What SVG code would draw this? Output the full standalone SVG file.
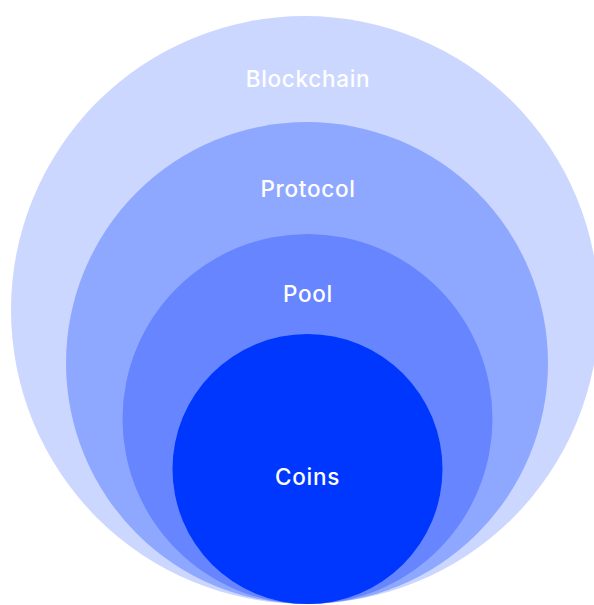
<svg xmlns="http://www.w3.org/2000/svg" width="594" height="605" viewBox="0 0 594 605">
<style>
.lbl{font-family:Inter,"Noto Sans",sans-serif;font-weight:500;font-size:22.5px;letter-spacing:0.7px;fill:#ffffff;text-anchor:middle}
</style>
<rect width="594" height="605" fill="#ffffff"/>
<g id="blockchain">
<circle cx="305" cy="310" r="294" fill="#ccd7ff"/>
<text class="lbl" x="308" y="87">Blockchain</text>
</g>
<g id="protocol">
<circle cx="307" cy="363" r="241" fill="#8fa8ff"/>
<text class="lbl" x="308" y="197">Protocol</text>
</g>
<g id="pool">
<circle cx="307.5" cy="419" r="185" fill="#6685ff"/>
<text class="lbl" x="308" y="302">Pool</text>
</g>
<g id="coins">
<circle cx="307.5" cy="469" r="135" fill="#0037ff"/>
<text class="lbl" x="307.5" y="485">Coins</text>
</g>
</svg>
